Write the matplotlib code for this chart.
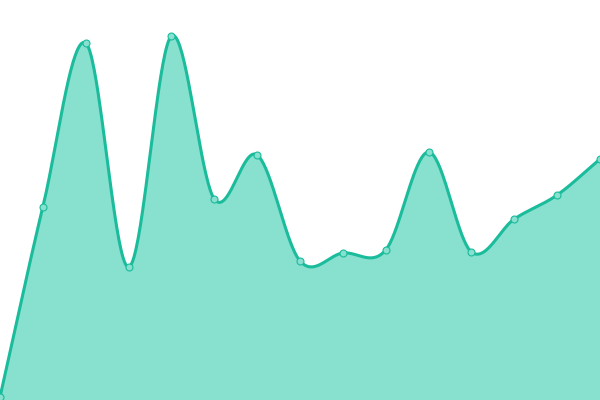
import numpy as np
import matplotlib.pyplot as plt

# point values (0 = bottom edge, 400 = top edge)
x_idx = list(range(15))
values = [3, 193, 357, 133, 364, 201, 245, 139, 147, 150, 248, 148, 181, 205, 241]

line_color = "#1abc9c"
fill_color = "#88e0cf"


def catmull_rom(xs, ys, steps=40):
    # smooth curve through the points, like the chart's spline
    xs = np.asarray(xs, float)
    ys = np.asarray(ys, float)
    px = np.concatenate([[2 * xs[0] - xs[1]], xs, [2 * xs[-1] - xs[-2]]])
    py = np.concatenate([[2 * ys[0] - ys[1]], ys, [2 * ys[-1] - ys[-2]]])
    out_x, out_y = [], []
    for i in range(1, len(px) - 2):
        t = np.linspace(0, 1, steps, endpoint=False)
        for p, out in ((px, out_x), (py, out_y)):
            p0, p1, p2, p3 = p[i - 1], p[i], p[i + 1], p[i + 2]
            out.extend(0.5 * ((2 * p1) + (-p0 + p2) * t
                              + (2 * p0 - 5 * p1 + 4 * p2 - p3) * t ** 2
                              + (-p0 + 3 * p1 - 3 * p2 + p3) * t ** 3))
    out_x.append(xs[-1])
    out_y.append(ys[-1])
    return np.array(out_x), np.array(out_y)


sx, sy = catmull_rom(x_idx, values)

fig = plt.figure(figsize=(6, 4), dpi=100)
ax = fig.add_axes([0, 0, 1, 1])
ax.fill_between(sx, 0, sy, color=fill_color, linewidth=0)
ax.plot(sx, sy, color=line_color, linewidth=2.2, solid_capstyle="round")
ax.plot(x_idx, values, "o", markersize=5, markerfacecolor=fill_color,
        markeredgecolor=line_color, markeredgewidth=0.8)
ax.set_xlim(0, 14)
ax.set_ylim(0, 400)
ax.axis("off")

fig.savefig("out.png", dpi=100)
